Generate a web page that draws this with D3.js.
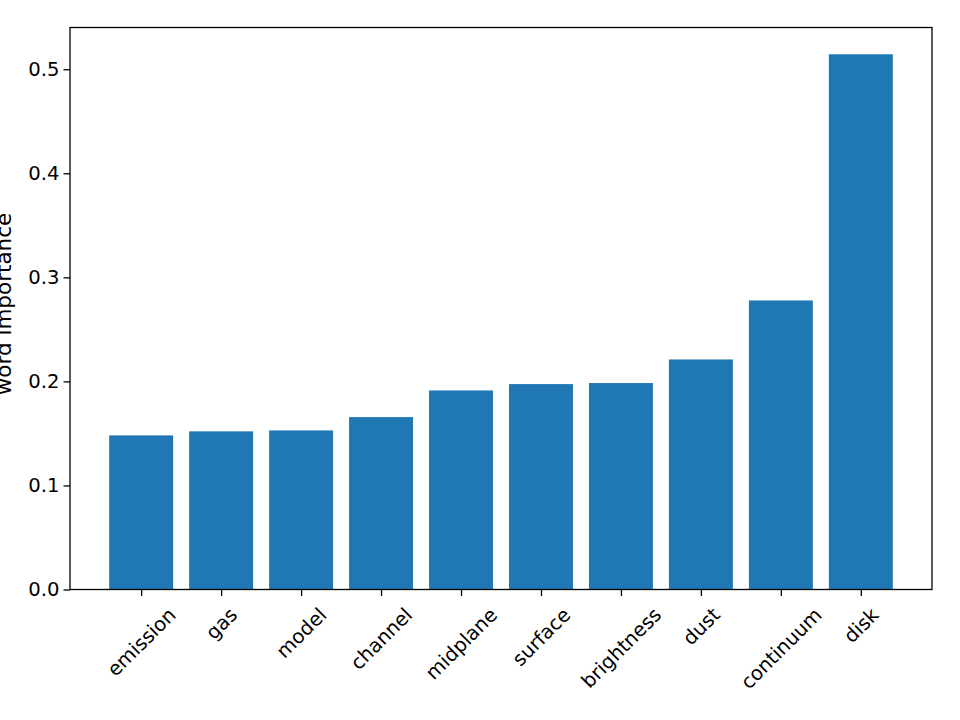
<!DOCTYPE html>
<html><head><meta charset="utf-8">
<script src="https://cdn.jsdelivr.net/npm/d3@7"></script>
<style>body{margin:0;background:#fff}svg{display:block}text{font-family:"DejaVu Sans",sans-serif;fill:#000}</style>
</head><body><svg id="c" width="960" height="720"></svg>
<script>
const categories = ["emission","gas","model","channel","midplane","surface","brightness","dust","continuum","disk"];
const values = [0.1481,0.1520,0.1529,0.1657,0.1913,0.1974,0.1984,0.2211,0.2778,0.5144];
const yTicks = [0.0,0.1,0.2,0.3,0.4,0.5];
const yLabel = "word importance";

const svg = d3.select("#c");
const L = 70, R = 932, T = 27.5, B = 589.5;
const FS = 19.6;
const x = d3.scaleLinear().domain([-0.89, 9.89]).range([L, R]);
const y = d3.scaleLinear().domain([0, d3.max(values) * 1.05]).range([B, T]);
const bw = 0.8;

svg.append("g").selectAll("rect").data(values).join("rect")
  .attr("x", (d, i) => x(i - bw / 2))
  .attr("width", (d, i) => x(i + bw / 2) - x(i - bw / 2))
  .attr("y", d => y(d))
  .attr("height", d => y(0) - y(d))
  .attr("fill", "#1f77b4");

// spines
svg.append("rect").attr("x", L).attr("y", T).attr("width", R - L).attr("height", B - T)
  .attr("fill", "none").attr("stroke", "#000").attr("stroke-width", 1.3);

// y axis
const yAxis = d3.axisLeft(y).tickValues(yTicks).tickFormat(d3.format(".1f")).tickSize(6.5).tickPadding(4);
const gy = svg.append("g").attr("transform", `translate(${L},0)`).call(yAxis);
gy.select(".domain").remove();
gy.selectAll("line").attr("stroke", "#000").attr("stroke-width", 1.3);
gy.selectAll("text").attr("font-size", FS).attr("font-family", "DejaVu Sans").attr("fill", "#000");

// x axis
const xAxis = d3.axisBottom(x).tickValues(d3.range(categories.length)).tickFormat(i => categories[i]).tickSize(6.5);
const gx = svg.append("g").attr("transform", `translate(0,${B})`).call(xAxis);
gx.select(".domain").remove();
gx.selectAll("line").attr("stroke", "#000").attr("stroke-width", 1.3);
const labelTop = 14;
gx.selectAll("text")
  .attr("font-size", FS).attr("font-family", "DejaVu Sans").attr("fill", "#000")
  .attr("y", null).attr("dy", null)
  .attr("text-anchor", "middle")
  .attr("dominant-baseline", "central")
  .each(function () {
    const len = this.getComputedTextLength();
    const h = FS * 1.16;
    const half = (len + h) / (2 * Math.SQRT2);
    d3.select(this).attr("transform", `translate(0,${labelTop + half}) rotate(-45)`);
  });

// y label
svg.append("text")
  .attr("transform", `translate(11,304) rotate(-90)`)
  .attr("text-anchor", "middle")
  .attr("font-size", 21.5)
  .text(yLabel);
</script></body></html>
